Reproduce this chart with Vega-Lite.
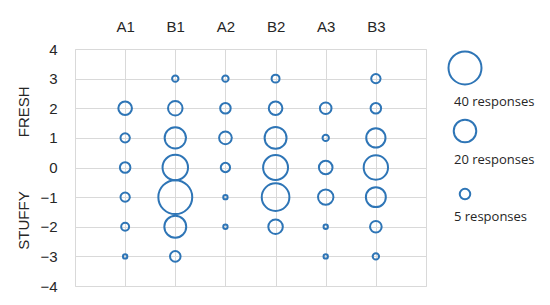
{
  "$schema": "https://vega.github.io/schema/vega-lite/v6.json",
  "padding": {"left": 16, "top": 18, "right": 5, "bottom": 5},
  "background": "white",
  "config": {"view": {"stroke": null}, "font": "Liberation Sans"},
  "spacing": 8,
  "hconcat": [
    {
      "width": 351,
      "height": 237,
      "view": {"stroke": "#D9D9D9", "strokeWidth": 1},
      "data": {"values": [
        {"group": "A1", "score": 2, "n": 8},
        {"group": "A1", "score": 1, "n": 4},
        {"group": "A1", "score": 0, "n": 5},
        {"group": "A1", "score": -1, "n": 4},
        {"group": "A1", "score": -2, "n": 3},
        {"group": "A1", "score": -3, "n": 1},
        {"group": "B1", "score": 3, "n": 2},
        {"group": "B1", "score": 2, "n": 9},
        {"group": "B1", "score": 1, "n": 18},
        {"group": "B1", "score": 0, "n": 25},
        {"group": "B1", "score": -1, "n": 42},
        {"group": "B1", "score": -2, "n": 19},
        {"group": "B1", "score": -3, "n": 5},
        {"group": "A2", "score": 3, "n": 2},
        {"group": "A2", "score": 2, "n": 5},
        {"group": "A2", "score": 1, "n": 7},
        {"group": "A2", "score": 0, "n": 4},
        {"group": "A2", "score": -1, "n": 1},
        {"group": "A2", "score": -2, "n": 1},
        {"group": "B2", "score": 3, "n": 3},
        {"group": "B2", "score": 2, "n": 8},
        {"group": "B2", "score": 1, "n": 19},
        {"group": "B2", "score": 0, "n": 24},
        {"group": "B2", "score": -1, "n": 29},
        {"group": "B2", "score": -2, "n": 9},
        {"group": "A3", "score": 2, "n": 6},
        {"group": "A3", "score": 1, "n": 2},
        {"group": "A3", "score": 0, "n": 8},
        {"group": "A3", "score": -1, "n": 10},
        {"group": "A3", "score": -2, "n": 1},
        {"group": "A3", "score": -3, "n": 1},
        {"group": "B3", "score": 3, "n": 4},
        {"group": "B3", "score": 2, "n": 5},
        {"group": "B3", "score": 1, "n": 15},
        {"group": "B3", "score": 0, "n": 23},
        {"group": "B3", "score": -1, "n": 16},
        {"group": "B3", "score": -2, "n": 6},
        {"group": "B3", "score": -3, "n": 2}
      ]},
      "mark": {"type": "point", "shape": "circle", "filled": false, "stroke": "#2E75B6", "strokeWidth": 2, "opacity": 1},
      "encoding": {
        "x": {
          "field": "group", "type": "nominal",
          "sort": ["A1", "B1", "A2", "B2", "A3", "B3"],
          "scale": {"type": "point", "padding": 1},
          "axis": {"orient": "top", "title": null, "labelAngle": 0, "ticks": false, "domain": false, "grid": true, "gridColor": "#D9D9D9", "labelFontSize": 15, "labelPadding": 15, "labelColor": "#262626"}
        },
        "y": {
          "field": "score", "type": "quantitative",
          "scale": {"domain": [-4, 4], "nice": false},
          "axis": {
            "values": [-4, -3, -2, -1, 0, 1, 2, 3, 4],
            "grid": true, "gridColor": "#D9D9D9", "ticks": false, "domain": false,
            "labelFontSize": 15, "labelPadding": 18, "labelColor": "#262626",
            "title": "STUFFY\u00a0\u00a0\u00a0\u00a0\u00a0\u00a0\u00a0\u00a0\u00a0\u00a0\u00a0\u00a0\u00a0FRESH",
            "titleFontWeight": "normal", "titleFontSize": 15, "titleColor": "#262626", "titlePadding": 8
          }
        },
        "size": {
          "field": "n", "type": "quantitative",
          "scale": {"type": "pow", "exponent": 1.1, "domain": [0, 40], "range": [0, 1089]},
          "legend": null
        }
      }
    },
    {
      "width": 60,
      "height": 164,
      "view": {"stroke": null},
      "data": {"values": [
        {"n": 40, "label": "40 responses"},
        {"n": 20, "label": "20 responses"},
        {"n": 5, "label": "5 responses"}
      ]},
      "encoding": {
        "y": {"field": "label", "type": "nominal", "sort": {"field": "n", "order": "descending"}, "scale": {"type": "point", "padding": 0.3}, "axis": null}
      },
      "layer": [
        {
          "mark": {"type": "point", "shape": "circle", "filled": false, "stroke": "#2E75B6", "strokeWidth": 2, "opacity": 1},
          "encoding": {
            "size": {
              "field": "n", "type": "quantitative",
              "scale": {"type": "pow", "exponent": 1.1, "domain": [0, 40], "range": [0, 1089]},
              "legend": null
            }
          }
        },
        {
          "mark": {"type": "text", "align": "left", "baseline": "top", "dx": -11, "dy": 11, "font": "Open Sans", "fontSize": 13, "color": "#262626"},
          "encoding": {
            "text": {"field": "label"},
            "yOffset": {"field": "n", "type": "quantitative", "scale": {"type": "sqrt", "domain": [0, 40], "range": [0, 17]}}
          }
        }
      ]
    }
  ]
}
